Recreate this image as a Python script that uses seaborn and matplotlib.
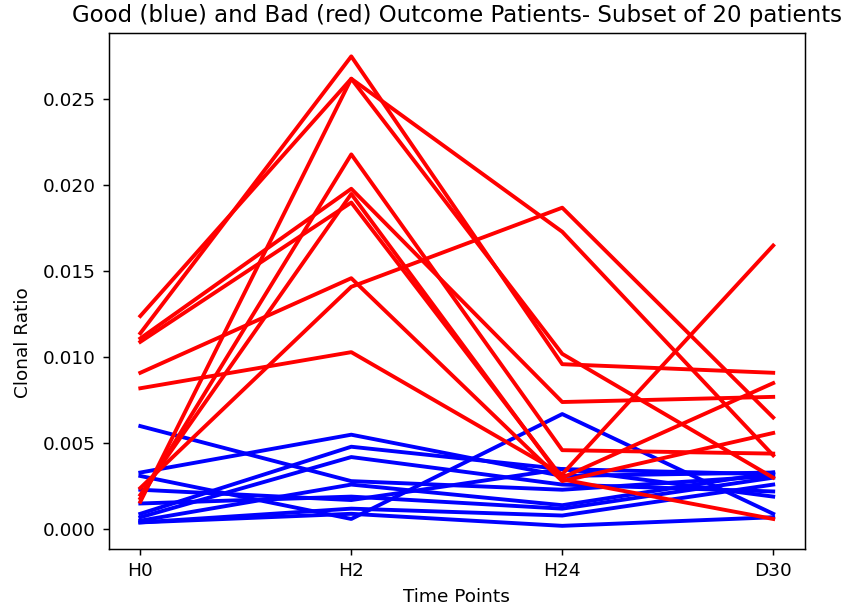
import pandas as pd
import matplotlib
matplotlib.use("Agg")
import matplotlib.pyplot as plt
import seaborn as sns

time_points = ["H0", "H2", "H24", "D30"]

# bad outcome patients (red), one row per patient: H0, H2, H24, D30
bad = [
    [0.0124, 0.0262, 0.0173, 0.0043],
    [0.0114, 0.0275, 0.0096, 0.0091],
    [0.0111, 0.0198, 0.0074, 0.0077],
    [0.0109, 0.0190, 0.0030, 0.0085],
    [0.0091, 0.0146, 0.0028, 0.0056],
    [0.0082, 0.0103, 0.0032, 0.0165],
    [0.0016, 0.0262, 0.0102, 0.0030],
    [0.0018, 0.0218, 0.0046, 0.0044],
    [0.0020, 0.0195, 0.0029, 0.0006],
    [0.0024, 0.0141, 0.0187, 0.0065],
]

# good outcome patients (blue)
good = [
    [0.0060, 0.0028, 0.0023, 0.0031],
    [0.0033, 0.0055, 0.0031, 0.0033],
    [0.0031, 0.0006, 0.0067, 0.0009],
    [0.0023, 0.0017, 0.0035, 0.0019],
    [0.0015, 0.0019, 0.0012, 0.0030],
    [0.0009, 0.0048, 0.0035, 0.0032],
    [0.0007, 0.0042, 0.0026, 0.0022],
    [0.0005, 0.0026, 0.0014, 0.0033],
    [0.0004, 0.0012, 0.0008, 0.0026],
    [0.0004, 0.0009, 0.0002, 0.0007],
]

rows = []
for group, name in [(good, "Good"), (bad, "Bad")]:
    for i, vals in enumerate(group):
        for t, v in zip(time_points, vals):
            rows.append({"patient": name + str(i), "time": t, "value": v, "outcome": name})
df = pd.DataFrame(rows)

fig = plt.figure(figsize=(849 / 133.3, 609 / 133.3), dpi=133.3)
ax = fig.add_subplot(111)
sns.lineplot(data=df, x="time", y="value", hue="outcome", units="patient",
             estimator=None, sort=False, hue_order=["Good", "Bad"],
             palette={"Good": "blue", "Bad": "red"}, linewidth=2.1,
             legend=False, ax=ax)
ax.set_xlabel("Time Points")
ax.set_ylabel("Clonal Ratio")
ax.yaxis.set_label_coords(-0.11, 0.4)
ax.set_title("Good (blue) and Bad (red) Outcome Patients- Subset of 20 patients", fontsize=12.4)
fig.subplots_adjust(left=0.128, right=0.948, top=0.946, bottom=0.098)
fig.savefig("out.png", dpi=133.3)
